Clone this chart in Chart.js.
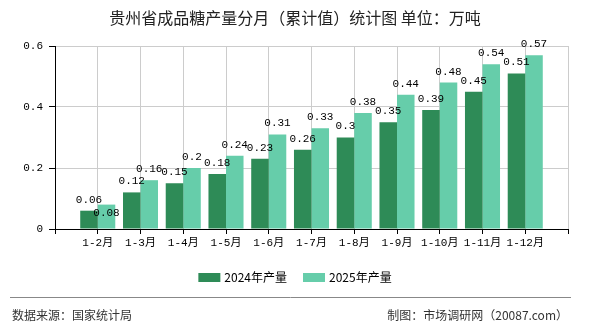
<!DOCTYPE html>
<html>
<head>
<meta charset="utf-8">
<script src="https://cdn.jsdelivr.net/npm/chart.js@4"></script>
<style>
  html, body { margin: 0; padding: 0; background: #fff; }
  #wrap { width: 590px; height: 330px; }
</style>
</head>
<body>
<div id="wrap"><canvas id="myChart" width="590" height="330"></canvas></div>
<script>
const titleText = '贵州省成品糖产量分月（累计值）统计图 单位：万吨'
const months = ['1-2月', '1-3月', '1-4月', '1-5月', '1-6月', '1-7月', '1-8月', '1-9月', '1-10月', '1-11月', '1-12月']
const output2024 = [0.06, 0.12, 0.15, 0.18, 0.23, 0.26, 0.3, 0.35, 0.39, 0.45, 0.51]
const output2025 = [0.08, 0.16, 0.2, 0.24, 0.31, 0.33, 0.38, 0.44, 0.48, 0.54, 0.57]
const yTicks = [0, 0.2, 0.4, 0.6]
const sourceText = '数据来源：国家统计局'
const makerText = '制图：市场调研网（20087.com）'

const numFont = '11px "Liberation Mono", "Noto Sans CJK SC", monospace'
const cjkFont = '"Noto Sans CJK SC", sans-serif'

// empty slot on each side, like the original
const labels = ['', ...months, '']
const pad = arr => [null, ...arr, null]

const extras = {
    id: 'extras',
    afterDatasetsDraw(chart) {
        const ctx = chart.ctx
        ctx.save()
        ctx.font = numFont
        ctx.fillStyle = '#000'
        ctx.textAlign = 'center'
        ctx.textBaseline = 'middle'
        const placed = {}  // per category
        chart.data.datasets.forEach((ds, di) => {
            chart.getDatasetMeta(di).data.forEach((bar, i) => {
                const v = ds.data[i]
                if (v === null || v === undefined) return
                const txt = String(v)
                const w = ctx.measureText(txt).width
                let cy = bar.y - 11
                let r = { x1: bar.x - w / 2, x2: bar.x + w / 2, y1: cy - 5.5, y2: cy + 5.5 }
                const list = placed[i] || (placed[i] = [])
                const hit = list.some(p => p.x1 < r.x2 && r.x1 < p.x2 && p.y1 < r.y2 && r.y1 < p.y2)
                if (hit) {
                    // no room above, put it just inside the bar
                    cy = bar.y + 8
                    r = { x1: r.x1, x2: r.x2, y1: cy - 5.5, y2: cy + 5.5 }
                }
                list.push(r)
                ctx.fillText(txt, bar.x, cy)
            })
        })
        ctx.restore()
    },
    afterDraw(chart) {
        const ctx = chart.ctx
        ctx.save()
        // title
        ctx.fillStyle = '#222'
        ctx.font = '16px ' + cjkFont
        ctx.textAlign = 'center'
        ctx.textBaseline = 'middle'
        ctx.fillText(titleText, 295, 18)

        // legend
        ctx.font = '12px ' + cjkFont
        ctx.textAlign = 'left'
        const items = chart.data.datasets.map(d => ({ label: d.label, color: d.backgroundColor }))
        const boxW = 22, boxH = 9, gap = 4, spacing = 16
        const widths = items.map(it => boxW + gap + ctx.measureText(it.label).width)
        const total = widths.reduce((a, b) => a + b, 0) + spacing * (items.length - 1)
        let x = 295 - total / 2
        const ly = 277.5
        items.forEach((it, k) => {
            ctx.fillStyle = it.color
            ctx.fillRect(x, ly - boxH / 2, boxW, boxH)
            ctx.fillStyle = '#000'
            ctx.fillText(it.label, x + boxW + gap, ly)
            x += widths[k] + spacing
        })

        // footer
        ctx.strokeStyle = '#888'
        ctx.lineWidth = 1
        ctx.beginPath()
        ctx.moveTo(10, 297.5)
        ctx.lineTo(571, 297.5)
        ctx.stroke()
        ctx.fillStyle = '#333'
        ctx.font = '12px ' + cjkFont
        ctx.textAlign = 'left'
        ctx.fillText(sourceText, 12, 315)
        ctx.textAlign = 'right'
        ctx.fillText(makerText, 568, 315)
        ctx.restore()
    }
}

const ctx = document.getElementById('myChart').getContext('2d')
const myChart = new Chart(ctx, {
    type: 'bar',
    data: {
        labels: labels,
        datasets: [
            {
                label: '2024年产量',
                data: pad(output2024),
                backgroundColor: '#2E8B57',
                categoryPercentage: 0.82,
                barPercentage: 1.0
            },
            {
                label: '2025年产量',
                data: pad(output2025),
                backgroundColor: '#66CDAA',
                categoryPercentage: 0.82,
                barPercentage: 1.0
            }
        ]
    },
    options: {
        responsive: false,
        animation: false,
        layout: {
            padding: { left: 10, right: 22, top: 46, bottom: 61 }
        },
        plugins: {
            legend: { display: false },
            title: { display: false },
            tooltip: { enabled: false }
        },
        scales: {
            x: {
                offset: false,
                afterFit: s => { s.height = 40 },
                grid: {
                    offset: false,
                    color: '#ccc',
                    tickColor: '#000',
                    tickLength: 5
                },
                border: { color: '#000', width: 1 },
                ticks: {
                    autoSkip: false,
                    maxRotation: 0,
                    padding: 2,
                    color: '#000',
                    font: { family: '"Liberation Mono", "Noto Sans CJK SC", monospace', size: 11 }
                }
            },
            y: {
                min: 0,
                max: 0.6,
                afterFit: s => { s.width = 45 },
                afterBuildTicks: s => { s.ticks = yTicks.map(v => ({ value: v })) },
                grid: {
                    color: '#ccc',
                    tickColor: '#000',
                    tickLength: 6
                },
                border: { color: '#000', width: 1 },
                ticks: {
                    padding: 6,
                    color: '#000',
                    font: { family: '"Liberation Mono", monospace', size: 11 },
                    callback: v => String(v)
                }
            }
        }
    },
    plugins: [extras]
})
</script>
</body>
</html>
